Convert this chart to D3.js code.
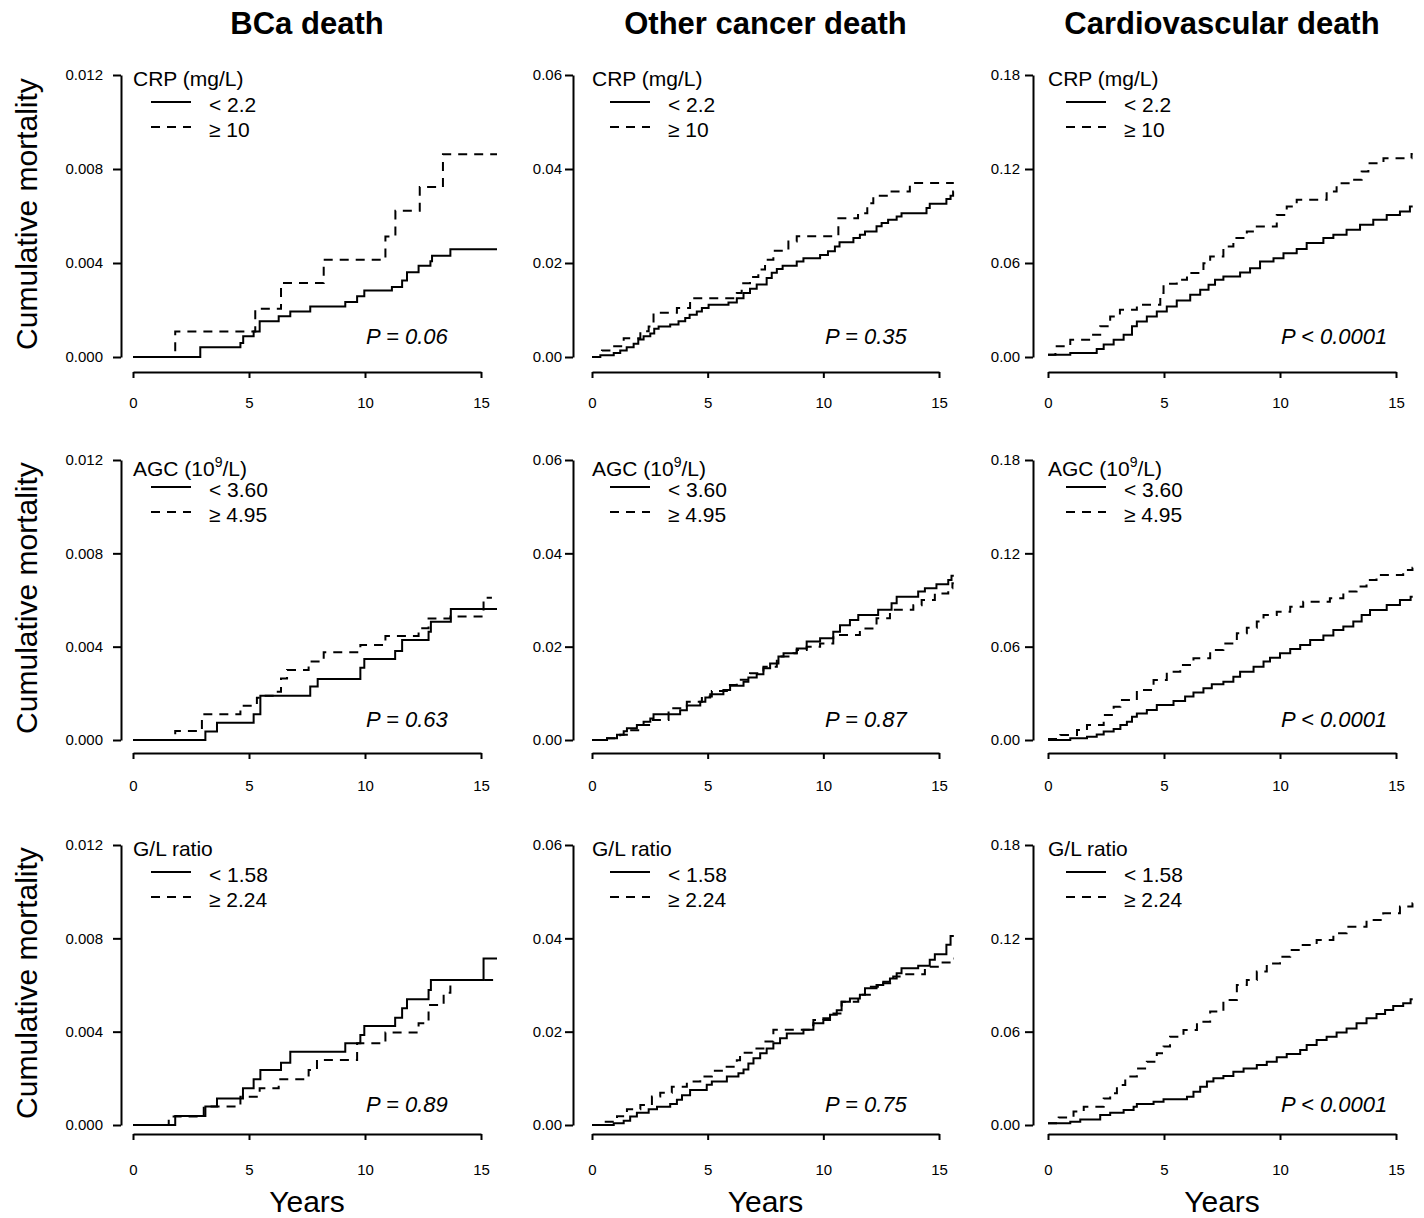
<!DOCTYPE html>
<html>
<head>
<meta charset="utf-8">
<script src="https://cdn.jsdelivr.net/npm/d3@7"></script>
<style>
  body { margin: 0; background: #fff; }
  svg { display: block; font-family: "Liberation Sans", Arial, sans-serif; }
</style>
</head>
<body>
<script>
// Cumulative mortality step curves, [years, cumulative mortality] at each step

// --- column / row labels
const colTitles = ["BCa death", "Other cancer death", "Cardiovascular death"];
const yMax = [0.012, 0.06, 0.18];
const yTickLabels = [
    ["0.000", "0.004", "0.008", "0.012"],
    ["0.00", "0.02", "0.04", "0.06"],
    ["0.00", "0.06", "0.12", "0.18"]
];
const xTicks = [0, 5, 10, 15];
const markerNames = ["CRP (mg/L)", "AGC (10^9/L)", "G/L ratio"];
const lowLabels = ["< 2.2", "< 3.60", "< 1.58"];
const highLabels = ["\u2265 10", "\u2265 4.95", "\u2265 2.24"];
const pValues = [
    ["P = 0.06", "P = 0.35", "P < 0.0001"],
    ["P = 0.63", "P = 0.87", "P < 0.0001"],
    ["P = 0.89", "P = 0.75", "P < 0.0001"]
];

// --- row 1: CRP
const bcaCrpLow = [[0,0],[2.9,0.00042],[4.63,0.0006],[4.75,0.00088],[5.2,0.00109],[5.46,0.00152],[6.28,0.00173],[6.78,0.00194],[7.64,0.00215],[9.15,0.00234],[9.66,0.00258],[9.97,0.00283],[11.16,0.00298],[11.6,0.00326],[11.81,0.00361],[12.31,0.00388],[12.82,0.00407],[12.89,0.00431],[13.68,0.00459]];
const bcaCrpHigh = [[0,0],[1.82,0.00109],[5.27,0.00205],[6.38,0.00315],[8.22,0.00414],[10.88,0.00513],[11.31,0.00622],[12.36,0.00723],[13.36,0.00863]];
const ocCrpLow = [[0,0],[0.36,0.00035],[0.94,0.00085],[1.22,0.0014],[1.5,0.0021],[1.8,0.0028],[2.0,0.0037],[2.23,0.0044],[2.52,0.005],[2.69,0.006],[2.88,0.0065],[3.38,0.0069],[3.74,0.0076],[4.03,0.0083],[4.22,0.009],[4.53,0.0097],[4.75,0.0104],[5.04,0.0111],[5.9,0.0116],[6.26,0.0125],[6.55,0.0136],[6.83,0.0145],[7.12,0.0154],[7.55,0.0168],[7.77,0.0179],[7.99,0.0187],[8.24,0.0194],[8.85,0.0203],[9.14,0.021],[9.86,0.0217],[10.2,0.0225],[10.5,0.0235],[10.7,0.0244],[11.3,0.0253],[11.58,0.026],[11.8,0.0267],[12.3,0.0278],[12.52,0.0285],[12.8,0.0292],[13.17,0.0299],[13.38,0.0306],[14.46,0.0317],[14.6,0.0326],[15.32,0.0336],[15.5,0.0343],[15.61,0.0352]];
const ocCrpHigh = [[0,0],[0.43,0.0014],[0.9,0.0023],[1.37,0.004],[2.09,0.0055],[2.45,0.0065],[2.66,0.0094],[3.67,0.0104],[4.24,0.0125],[6.26,0.0136],[6.47,0.0157],[6.83,0.017],[7.19,0.0186],[7.48,0.0207],[7.84,0.0226],[8.49,0.0246],[8.85,0.0257],[10.65,0.0295],[11.5,0.0306],[11.9,0.0327],[12.16,0.0343],[12.95,0.0352],[13.74,0.037]];
const cvCrpLow = [[0,0.0015],[0.96,0.0026],[2.1,0.0051],[2.4,0.0079],[2.83,0.011],[3.26,0.0142],[3.62,0.0196],[3.83,0.0227],[4.26,0.0259],[4.69,0.0291],[5.12,0.0323],[5.55,0.0361],[6.13,0.0397],[6.56,0.0429],[6.92,0.0461],[7.2,0.0493],[7.56,0.0514],[8.28,0.054],[8.71,0.0567],[9.14,0.061],[9.72,0.0631],[10.15,0.0663],[10.72,0.0689],[11.15,0.0727],[11.87,0.0759],[12.3,0.078],[12.87,0.0812],[13.45,0.0844],[14.02,0.0876],[14.6,0.0907],[15.17,0.0929],[15.6,0.0961]];
const cvCrpHigh = [[0,0.0015],[0.32,0.0068],[0.96,0.011],[1.82,0.0142],[2.25,0.0196],[2.68,0.0259],[3.1,0.0302],[3.83,0.0334],[4.84,0.0408],[4.98,0.0468],[5.55,0.0493],[5.99,0.0536],[6.7,0.0599],[6.99,0.0642],[7.56,0.0706],[7.99,0.0759],[8.57,0.0801],[9.0,0.0833],[9.86,0.0907],[10.29,0.0961],[10.72,0.1003],[12.01,0.1056],[12.44,0.1109],[13.01,0.1131],[13.52,0.1184],[13.81,0.1237],[14.46,0.1269],[15.67,0.1296]];

// --- row 2: AGC
const bcaAgcLow = [[0,0],[3.12,0.00036],[3.62,0.00074],[5.2,0.0011],[5.49,0.0019],[7.64,0.00229],[7.96,0.00261],[9.8,0.0031],[9.97,0.00347],[11.3,0.00381],[11.6,0.00429],[12.74,0.00464],[12.84,0.00507],[13.7,0.00561]];
const bcaAgcHigh = [[0,0],[1.82,0.00039],[2.97,0.0011],[4.63,0.00147],[5.34,0.00181],[5.5,0.0019],[6.24,0.00207],[6.38,0.00264],[6.64,0.003],[7.57,0.00336],[8.22,0.00376],[9.8,0.00407],[10.88,0.00446],[12.31,0.00479],[12.74,0.00521],[13.68,0.00529],[15.11,0.0061]];
const ocAgcLow = [[0,0],[0.65,0.00036],[1.08,0.0011],[1.37,0.0019],[1.51,0.0025],[1.94,0.0032],[2.23,0.0039],[2.52,0.0046],[2.66,0.0055],[3.81,0.0064],[4.1,0.0074],[4.68,0.0082],[4.9,0.0091],[5.11,0.0098],[5.68,0.0107],[5.97,0.0116],[6.55,0.0125],[6.76,0.0134],[7.12,0.0141],[7.41,0.0154],[7.7,0.0164],[8.06,0.0179],[8.28,0.0186],[8.85,0.0196],[9.28,0.0211],[9.86,0.0218],[10.43,0.0232],[10.72,0.0246],[11.15,0.0257],[11.51,0.0268],[12.37,0.0279],[12.95,0.0293],[13.17,0.0307],[14.1,0.0318],[14.39,0.0325],[14.89,0.0334],[15.4,0.0343],[15.54,0.0352]];
const ocAgcHigh = [[0,0],[0.65,0.0004],[1.22,0.0011],[1.65,0.0021],[2.09,0.0032],[2.52,0.0043],[3.31,0.0068],[4.1,0.0082],[4.75,0.0093],[5.18,0.0105],[5.83,0.0118],[6.26,0.0129],[6.83,0.0143],[7.41,0.0157],[7.99,0.0179],[8.71,0.0186],[8.85,0.0193],[9.28,0.02],[9.86,0.0207],[10.43,0.0225],[11.58,0.0239],[12.3,0.0261],[12.88,0.0279],[13.89,0.0289],[14.25,0.03],[14.82,0.0314],[15.4,0.0325],[15.58,0.0336]];
const cvAgcLow = [[0,0],[0.96,0.0011],[1.68,0.0021],[2.1,0.0036],[2.4,0.0054],[2.83,0.0071],[3.12,0.0096],[3.4,0.0118],[3.62,0.015],[3.83,0.0171],[4.26,0.0193],[4.69,0.0225],[5.41,0.0251],[5.91,0.0279],[6.27,0.0306],[6.7,0.0332],[7.06,0.0358],[7.56,0.0375],[7.99,0.0407],[8.28,0.0439],[8.86,0.0471],[9.29,0.0504],[9.57,0.0529],[10.0,0.0557],[10.44,0.0585],[10.87,0.0611],[11.3,0.0643],[11.87,0.0671],[12.3,0.0707],[12.73,0.0729],[13.16,0.0761],[13.52,0.0804],[13.88,0.0836],[14.6,0.0868],[15.17,0.09],[15.63,0.0921]];
const cvAgcHigh = [[0,0.0006],[0.53,0.0032],[1.25,0.0064],[1.68,0.0096],[2.4,0.0161],[2.83,0.0214],[3.12,0.0257],[3.83,0.0321],[4.55,0.0386],[5.12,0.0439],[5.7,0.0482],[6.27,0.0525],[6.99,0.0579],[7.56,0.0621],[8.14,0.0686],[8.57,0.0722],[9.0,0.0761],[9.29,0.0804],[9.86,0.0825],[10.44,0.0857],[11.0,0.0889],[12.15,0.0911],[12.73,0.0954],[13.3,0.0986],[13.73,0.1029],[14.16,0.1061],[15.31,0.1093],[15.71,0.1108]];

// --- row 3: G/L ratio
const bcaGlLow = [[0,0],[1.82,0.00039],[3.12,0.00079],[3.62,0.00114],[4.74,0.00157],[5.2,0.00196],[5.49,0.00236],[6.38,0.00267],[6.78,0.00314],[9.15,0.0035],[9.8,0.00386],[9.97,0.00424],[11.3,0.0046],[11.6,0.005],[11.81,0.00539],[12.74,0.00579],[12.84,0.00621],[15.11,0.00714]];
const bcaGlHigh = [[0,0],[1.54,0.00036],[3.05,0.00079],[4.63,0.00121],[5.46,0.00157],[6.28,0.00196],[7.57,0.00236],[7.93,0.00279],[9.66,0.0035],[10.88,0.00396],[12.31,0.00436],[12.74,0.00514],[13.39,0.00567],[13.68,0.00621]];
const ocGlLow = [[0,0],[0.94,0.0004],[1.37,0.0009],[1.65,0.0018],[1.94,0.0026],[2.45,0.0034],[2.81,0.0039],[3.38,0.0045],[3.67,0.0054],[3.89,0.0064],[4.24,0.0075],[4.96,0.0086],[5.18,0.0093],[5.83,0.0104],[6.33,0.0111],[6.55,0.0119],[6.76,0.0132],[6.98,0.0143],[7.27,0.0154],[7.55,0.0164],[7.84,0.0175],[8.13,0.0186],[8.42,0.0196],[9.14,0.0204],[9.57,0.0218],[10.0,0.0225],[10.29,0.0236],[10.58,0.0246],[10.79,0.0264],[11.15,0.0271],[11.58,0.0279],[11.8,0.0293],[12.3,0.03],[12.59,0.0307],[12.88,0.0314],[13.17,0.0325],[13.38,0.0336],[14.1,0.0341],[14.6,0.0354],[14.82,0.0366],[15.32,0.0386],[15.5,0.0405]];
const ocGlHigh = [[0,0],[0.5,0.0007],[1.08,0.0019],[1.51,0.0034],[2.09,0.0043],[2.59,0.0061],[2.95,0.0069],[3.45,0.0082],[4.1,0.0093],[4.68,0.0104],[5.18,0.0116],[5.68,0.0125],[6.26,0.0139],[6.4,0.0155],[6.98,0.0164],[7.41,0.0179],[7.84,0.0204],[9.43,0.0214],[9.57,0.0225],[10.0,0.0229],[10.36,0.0239],[10.79,0.0264],[11.51,0.0279],[12.01,0.0296],[12.52,0.0304],[13.02,0.0318],[13.45,0.0323],[14.39,0.0339],[15.11,0.0348],[15.58,0.0357]];
const cvGlLow = [[0,0.0011],[0.96,0.0021],[1.39,0.0036],[2.25,0.0064],[2.68,0.0079],[3.26,0.0096],[3.69,0.0118],[3.83,0.0135],[4.55,0.015],[4.98,0.0165],[5.99,0.0182],[6.27,0.0214],[6.56,0.0246],[6.85,0.0279],[7.13,0.03],[7.56,0.0315],[7.99,0.0343],[8.43,0.0364],[9.0,0.0386],[9.43,0.0407],[9.86,0.0435],[10.29,0.0456],[10.87,0.0482],[11.15,0.0514],[11.58,0.0546],[12.01,0.0568],[12.44,0.0594],[12.87,0.0621],[13.3,0.0654],[13.73,0.0686],[14.16,0.0714],[14.53,0.0739],[14.88,0.0765],[15.31,0.0782],[15.63,0.0808]];
const cvGlHigh = [[0,0.0011],[0.46,0.0049],[1.1,0.0086],[1.54,0.0118],[2.4,0.0171],[2.68,0.0204],[2.97,0.0257],[3.33,0.0311],[3.83,0.0364],[4.26,0.0407],[4.69,0.0461],[4.98,0.0504],[5.26,0.0568],[5.84,0.0611],[6.42,0.0664],[6.99,0.0729],[7.56,0.0804],[8.14,0.09],[8.57,0.0932],[9.0,0.0986],[9.43,0.1039],[10.0,0.1082],[10.44,0.1125],[10.87,0.1157],[11.58,0.1189],[12.3,0.1232],[12.87,0.1275],[13.73,0.1318],[14.45,0.1361],[15.17,0.1404],[15.71,0.1425]];

// last follow-up time of each curve [low, high], by row then column
const followUpEnd = [
    [[15.69, 15.69], [15.64, 15.64], [15.72, 15.72]],
    [[15.69, 15.47], [15.64, 15.64], [15.72, 15.72]],
    [[15.69, 15.69], [15.64, 15.64], [15.72, 15.72]]
];

const curves = [
    [[bcaCrpLow, bcaCrpHigh], [ocCrpLow, ocCrpHigh], [cvCrpLow, cvCrpHigh]],
    [[bcaAgcLow, bcaAgcHigh], [ocAgcLow, ocAgcHigh], [cvAgcLow, cvAgcHigh]],
    [[bcaGlLow, bcaGlHigh], [ocGlLow, ocGlHigh], [cvGlLow, cvGlHigh]]
];

// --- layout (pixels)
const width = 1424, height = 1218;
const colAxisX = [121, 573, 1033];
const colX0 = [133, 592, 1048];
const colX15 = [481, 939, 1396];
const colLabelGap = [18, 11, 13];
const rowTop = [75, 460, 845];
const rowZero = [357, 740, 1125];
const rowXAxis = [372, 753, 1134];
const rowXLabel = [408, 791, 1175];
const rowLegendTitle = [11, 16, 11];
const DASH = "9,7";

const svg = d3.select("body").append("svg")
    .attr("width", width)
    .attr("height", height);

// column titles
colTitles.forEach((t, c) => {
    svg.append("text")
        .attr("x", (colX0[c] + colX15[c]) / 2)
        .attr("y", 34)
        .attr("text-anchor", "middle")
        .attr("font-size", 31)
        .attr("font-weight", "bold")
        .text(t);
});

// y label per row
rowTop.forEach((top, r) => {
    const cy = (top + rowZero[r]) / 2 - 2;
    svg.append("text")
        .attr("transform", `translate(37,${cy}) rotate(-90)`)
        .attr("text-anchor", "middle")
        .attr("font-size", 30)
        .text("Cumulative mortality");
});

// x label per column
colX0.forEach((x0, c) => {
    svg.append("text")
        .attr("x", (x0 + colX15[c]) / 2)
        .attr("y", 1212)
        .attr("text-anchor", "middle")
        .attr("font-size", 30)
        .text("Years");
});

const line = (x, y) => d3.line()
    .x(d => x(d[0]))
    .y(d => y(d[1]))
    .curve(d3.curveStepAfter);

for (let r = 0; r < 3; r++) {
    for (let c = 0; c < 3; c++) {
        const g = svg.append("g").attr("class", `panel r${r} c${c}`);

        const x = d3.scaleLinear().domain([0, 15]).range([colX0[c], colX15[c]]);
        const y = d3.scaleLinear().domain([0, yMax[c]]).range([rowZero[r], rowTop[r]]);
        const yTicks = d3.range(4).map(i => yMax[c] * i / 3);

        // y axis
        const yAxis = d3.axisLeft(y)
            .tickValues(yTicks)
            .tickSize(8)
            .tickSizeOuter(0)
            .tickPadding(colLabelGap[c] - 8)
            .tickFormat((d, i) => yTickLabels[c][i]);
        const yg = g.append("g")
            .attr("transform", `translate(${colAxisX[c]},0)`)
            .call(yAxis);

        // x axis
        const xAxis = d3.axisBottom(x)
            .tickValues(xTicks)
            .tickSize(6)
            .tickSizeOuter(0)
            .tickPadding(rowXLabel[r] - rowXAxis[r] - 6 - 10.6);
        const xg = g.append("g")
            .attr("transform", `translate(0,${rowXAxis[r]})`)
            .call(xAxis);

        [yg, xg].forEach(ax => {
            ax.select(".domain").attr("stroke", "#000").attr("stroke-width", 2);
            ax.selectAll(".tick line").attr("stroke", "#000").attr("stroke-width", 2);
            ax.selectAll(".tick text")
                .attr("font-size", 15)
                .attr("font-family", "Liberation Sans, Arial, sans-serif")
                .attr("fill", "#000");
        });

        // curves: solid = low group, dashed = high group
        curves[r][c].forEach((pts, k) => {
            const last = pts[pts.length - 1];
            const data = pts.concat([[followUpEnd[r][c][k], last[1]]]);
            g.append("path")
                .datum(data)
                .attr("d", line(x, y))
                .attr("fill", "none")
                .attr("stroke", "#000")
                .attr("stroke-width", 2)
                .attr("stroke-dasharray", k === 1 ? DASH : null);
        });

        // legend
        const x0 = colX0[c];
        const title = g.append("text")
            .attr("x", x0)
            .attr("y", rowTop[r] + rowLegendTitle[r])
            .attr("font-size", 21);
        const name = markerNames[r];
        if (name.includes("^")) {
            const [pre, rest] = name.split("^");
            title.append("tspan").text(pre);
            title.append("tspan").attr("dy", -9).attr("font-size", 14).text(rest.charAt(0));
            title.append("tspan").attr("dy", 9).text(rest.slice(1));
        } else {
            title.text(name);
        }

        [lowLabels[r], highLabels[r]].forEach((lab, k) => {
            const ly = rowTop[r] + 27 + k * 25;
            g.append("line")
                .attr("x1", x0 + 18).attr("x2", x0 + 58)
                .attr("y1", ly).attr("y2", ly)
                .attr("stroke", "#000")
                .attr("stroke-width", 2)
                .attr("stroke-dasharray", k === 1 ? DASH : null);
            g.append("text")
                .attr("x", x0 + 76)
                .attr("y", ly + 10)
                .attr("font-size", 21)
                .text(lab);
        });

        // p value
        g.append("text")
            .attr("x", x0 + 233)
            .attr("y", rowZero[r] - 13)
            .attr("font-size", 22)
            .attr("font-style", "italic")
            .text(pValues[r][c]);
    }
}
</script>
</body>
</html>
